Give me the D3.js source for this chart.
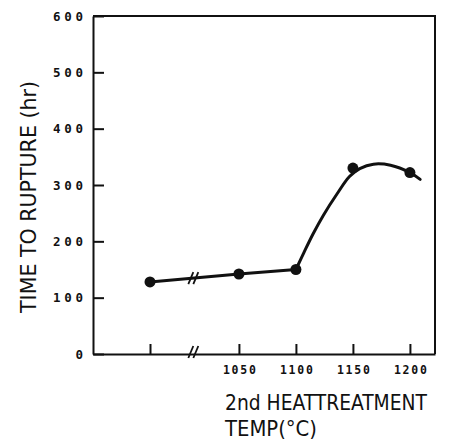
<!DOCTYPE html>
<html>
<head>
<meta charset="utf-8">
<script src="https://cdn.jsdelivr.net/npm/d3@7"></script>
<style>
  body { margin: 0; background: #fff; }
  svg { display: block; }
</style>
</head>
<body>
<svg id="chart" width="450" height="440"></svg>
<script>
// values
const basePos = 972;            // axis slot of the untreated condition (left of the break)
const breakPos = 1010;          // where the axis break "//" sits
const temps = [basePos, 1050, 1100, 1150, 1200];
const tickLabels = ["", "1050", "1100", "1150", "1200"];
const hours = [128, 142, 150, 330, 322];
// hand drawn fit above 1100
const fitTemps = [1100, 1107, 1115, 1124, 1136, 1147, 1156, 1168, 1183, 1200, 1209];
const fitHours = [150, 180, 213, 246, 284, 315, 329, 337, 335, 322, 310];
const yTicks = [0, 100, 200, 300, 400, 500, 600];

const svg = d3.select("#chart");
const plotL = 93, plotR = 435, plotT = 16, plotB = 354;

const x = d3.scaleLinear().domain([922, 1222]).range([plotL, plotL + 342]);
const y = d3.scaleLinear().domain([0, 600]).range([plotB, plotT]);

const ink = "#111";

// frame top / right
svg.append("path")
  .attr("d", `M${plotL},${plotT}H${plotR}V${plotB}`)
  .attr("fill", "none").attr("stroke", ink).attr("stroke-width", 2);

// y axis
const yAxis = svg.append("g")
  .attr("transform", `translate(${plotL},0)`)
  .call(d3.axisLeft(y).tickValues(yTicks).tickSize(-11).tickPadding(10).tickSizeOuter(0));
yAxis.selectAll("text")
  .style("font-family", "'DejaVu Sans Mono', monospace").style("font-weight", "bold")
  .style("font-size", "12.5px").attr("fill", ink)
  .filter(d => d > 0)
  .attr("textLength", 30).attr("lengthAdjust", "spacing");

// x axis
const xAxis = svg.append("g")
  .attr("transform", `translate(0,${plotB})`)
  .call(d3.axisBottom(x).tickValues(temps).tickFormat((d, i) => tickLabels[i])
    .tickSize(-10).tickPadding(12).tickSizeOuter(0));
xAxis.selectAll("text")
  .style("font-family", "'DejaVu Sans Mono', monospace").style("font-weight", "bold")
  .style("font-size", "11.5px").attr("fill", ink)
  .filter((d, i) => tickLabels[i] !== "")
  .attr("textLength", 33).attr("lengthAdjust", "spacing");

svg.selectAll(".domain").attr("stroke", ink).attr("stroke-width", 2);
svg.selectAll(".tick line").attr("stroke", ink).attr("stroke-width", 2);

// axis break marks
function breakMark(cx, cy) {
  [-2.5, 2.5].forEach(off => {
    svg.append("line")
      .attr("x1", cx + off - 2.5).attr("y1", cy + 6)
      .attr("x2", cx + off + 2.5).attr("y2", cy - 6)
      .attr("stroke", ink).attr("stroke-width", 1.8);
  });
}
breakMark(x(breakPos), plotB - 2);

// data line: straight up to 1100
const pts = temps.map((t, i) => [t, hours[i]]);
const straight = d3.line().x(d => x(d[0])).y(d => y(d[1]));
svg.append("path")
  .datum(pts.slice(0, 3))
  .attr("d", straight)
  .attr("fill", "none").attr("stroke", ink).attr("stroke-width", 3);

// smooth fit above 1100
const fit = fitTemps.map((t, i) => [t, fitHours[i]]);
svg.append("path")
  .datum(fit)
  .attr("d", d3.line().x(d => x(d[0])).y(d => y(d[1])).curve(d3.curveCatmullRom.alpha(0.5)))
  .attr("fill", "none").attr("stroke", ink).attr("stroke-width", 3)
  .attr("stroke-linecap", "round");

// break on the line itself
const bh = hours[0] + (hours[1] - hours[0]) * (breakPos - temps[0]) / (temps[1] - temps[0]);
breakMark(x(breakPos), y(bh));

// markers
svg.append("g").selectAll("circle")
  .data(pts)
  .join("circle")
  .attr("cx", d => x(d[0])).attr("cy", d => y(d[1]))
  .attr("r", 5.5).attr("fill", ink);

// titles
svg.append("text")
  .attr("transform", `translate(36,197) rotate(-90)`)
  .attr("text-anchor", "middle")
  .style("font-family", "'DejaVu Sans Condensed', 'DejaVu Sans', sans-serif").style("font-size", "21px")
  .attr("textLength", 232).attr("lengthAdjust", "spacingAndGlyphs")
  .attr("fill", ink)
  .text("TIME TO RUPTURE (hr)");

svg.append("text")
  .attr("x", 225).attr("y", 410)
  .style("font-family", "'DejaVu Sans Condensed', 'DejaVu Sans', sans-serif").style("font-size", "21px")
  .attr("textLength", 202).attr("lengthAdjust", "spacingAndGlyphs")
  .attr("fill", ink)
  .text("2nd HEATTREATMENT");

svg.append("text")
  .attr("x", 225).attr("y", 436)
  .style("font-family", "'DejaVu Sans Condensed', 'DejaVu Sans', sans-serif").style("font-size", "21px")
  .attr("textLength", 92).attr("lengthAdjust", "spacingAndGlyphs")
  .attr("fill", ink)
  .text("TEMP(°C)");
</script>
</body>
</html>
